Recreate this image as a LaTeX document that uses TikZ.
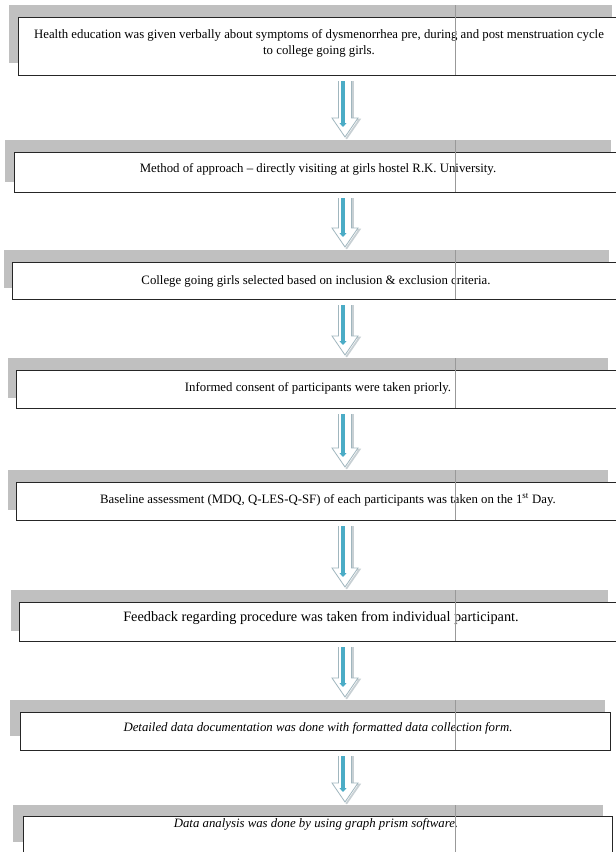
\documentclass[tikz,border=0pt]{standalone}
\usepackage{fontspec}
\setmainfont{Liberation Serif}
\usetikzlibrary{arrows.meta,calc}
\definecolor{shade}{RGB}{192,192,192}
\definecolor{arrblue}{RGB}{75,172,198}
\definecolor{arredge}{RGB}{160,182,190}
\definecolor{arrshadow}{RGB}{200,208,212}
\tikzset{
  x=1pt,y=-1pt,
  graybox/.style={fill=shade,draw=none},
  whitebox/.style={fill=white,draw=black!85,line width=1.1pt,inner sep=0pt},
  txt/.style={font=\fontsize{12.8}{16}\selectfont,align=center,inner sep=0pt},
  bigtxt/.style={font=\fontsize{14.3}{17}\selectfont,align=center,inner sep=0pt},
  ittxt/.style={font=\fontsize{12.8}{16}\selectfont\itshape,align=center,inner sep=0pt},
  guide/.style={draw=black!40,line width=0.5pt},
  arrbody/.style={fill=white,draw=arredge,line width=0.8pt,line join=miter},
  arrshade/.style={draw=arrshadow,line width=1.8pt,line join=miter},
  arrline/.style={draw=arrblue,line width=3.2pt,-{Triangle[length=4pt,width=7pt]}}
}
% block arrow connector between two named coordinates (top, tip)
\newcommand{\blockarrow}[2]{%
  \path[arrshade] let \p1=(#1), \p2=(#2) in
    (\x1+8,\y1) -- (\x1+8,\y2+17.5) -- (\x1+14.5,\y2+17.5) -- (\x1+1.2,\y2-1.8);
  \path[arrbody] let \p1=(#1), \p2=(#2) in
    (\x1-6.5,\y1) -- (\x1-6.5,\y2+19) -- (\x1-13,\y2+19) -- (\x1,\y2) -- (\x1+13,\y2+19) -- (\x1+6.5,\y2+19) -- (\x1+6.5,\y1);
  \draw[arrline] ($(#1)+(-2,0)$) -- ($(#2)+(-2,-10)$);
}
\begin{document}
\begin{tikzpicture}
\useasboundingbox (0,0) rectangle (616,852);
\clip (0,0) rectangle (616,852);
\fill[white] (0,0) rectangle (616,852);

% ---------- box 1
\fill[graybox] (9,5) rectangle (612,63);
\node[whitebox,minimum width=604pt,minimum height=58pt,anchor=north west] (b1) at (18,17) {};
\node[txt] (t1) at (319,43) {Health education was given verbally about symptoms of dysmenorrhea pre, during and post menstruation cycle\\to college going girls.};
\draw[guide] (455,5) -- (455,75);

% ---------- box 2
\fill[graybox] (5,140) rectangle (611,182);
\node[whitebox,minimum width=608pt,minimum height=40pt,anchor=north west] (b2) at (14,152) {};
\node[txt] (t2) at (318,169) {Method of approach -- directly visiting at girls hostel R.K. University.};
\draw[guide] (455,140) -- (455,192);

% ---------- box 3
\fill[graybox] (4,250) rectangle (609,288);
\node[whitebox,minimum width=610pt,minimum height=37pt,anchor=north west] (b3) at (12,262) {};
\node[txt] (t3) at (316,281) {College going girls selected based on inclusion \& exclusion criteria.};
\draw[guide] (455,250) -- (455,299);

% ---------- box 4
\fill[graybox] (8,358) rectangle (608,398);
\node[whitebox,minimum width=606pt,minimum height=38pt,anchor=north west] (b4) at (16,370) {};
\node[txt] (t4) at (318,388) {Informed consent of participants were taken priorly.};
\draw[guide] (455,358) -- (455,408);

% ---------- box 5
\fill[graybox] (8,470) rectangle (608,510);
\node[whitebox,minimum width=606pt,minimum height=38pt,anchor=north west] (b5) at (16,482) {};
\node[txt] (t5) at (328,500) {Baseline assessment (MDQ, Q-LES-Q-SF) of each participants was taken on the 1\textsuperscript{st} Day.};
\draw[guide] (455,470) -- (455,520);

% ---------- box 6
\fill[graybox] (11,590) rectangle (608,631);
\node[whitebox,minimum width=603pt,minimum height=39pt,anchor=north west] (b6) at (19,602) {};
\node[bigtxt] (t6) at (321,618) {Feedback regarding procedure was taken from individual participant.};
\draw[guide] (455,590) -- (455,641);

% ---------- box 7
\fill[graybox] (10,700) rectangle (605,736);
\node[whitebox,minimum width=590pt,minimum height=38pt,anchor=north west] (b7) at (20,712) {};
\node[ittxt] (t7) at (318,728) {Detailed data documentation was done with formatted data collection form.};
\draw[guide] (455,700) -- (455,750);

% ---------- box 8
\fill[graybox] (13,805) rectangle (603,842);
\node[whitebox,minimum width=589pt,minimum height=45pt,anchor=north west] (b8) at (23,816) {};
\node[ittxt] (t8) at (316,824) {Data analysis was done by using graph prism software.};
\draw[guide] (455,805) -- (455,852);

% ---------- arrow connectors
\coordinate (a1s) at ($(b1.south -| 345,0)+(0,5)$);  \coordinate (a1e) at (345,137);
\coordinate (a2s) at ($(b2.south -| 345,0)+(0,5)$);  \coordinate (a2e) at (345,247);
\coordinate (a3s) at ($(b3.south -| 345,0)+(0,5)$);  \coordinate (a3e) at (345,355);
\coordinate (a4s) at ($(b4.south -| 345,0)+(0,5)$);  \coordinate (a4e) at (345,467);
\coordinate (a5s) at ($(b5.south -| 345,0)+(0,5)$);  \coordinate (a5e) at (345,587);
\coordinate (a6s) at ($(b6.south -| 345,0)+(0,5)$);  \coordinate (a6e) at (345,697);
\coordinate (a7s) at ($(b7.south -| 345,0)+(0,5)$);  \coordinate (a7e) at (345,802);
\blockarrow{a1s}{a1e}
\blockarrow{a2s}{a2e}
\blockarrow{a3s}{a3e}
\blockarrow{a4s}{a4e}
\blockarrow{a5s}{a5e}
\blockarrow{a6s}{a6e}
\blockarrow{a7s}{a7e}
\end{tikzpicture}
\end{document}
